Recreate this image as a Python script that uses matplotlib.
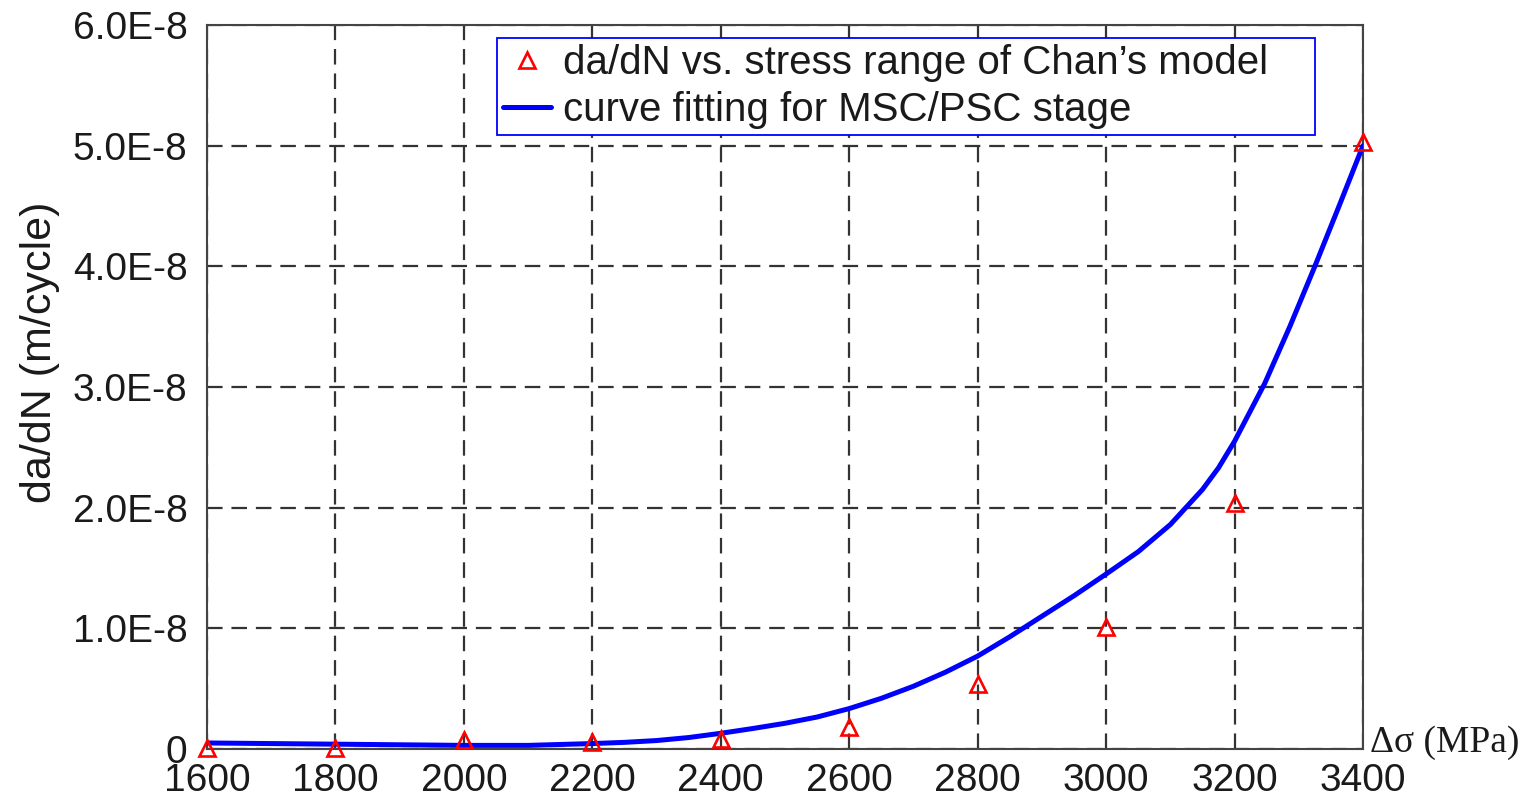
import numpy as np
import matplotlib
matplotlib.use("Agg")
import matplotlib.pyplot as plt
from matplotlib.ticker import FixedLocator, FixedFormatter

# Crack growth rate from Chan's model (in units of 1E-8 m/cycle)
stress_range = [1600, 1800, 2000, 2200, 2400, 2600, 2800, 3000, 3200, 3400]
dadn_model = [0.01, 0.01, 0.075, 0.06, 0.085, 0.18, 0.54, 1.01, 2.04, 5.03]

# Fitted MSC/PSC curve (in units of 1E-8 m/cycle)
fit_stress = [1600, 1700, 1800, 1900, 2000, 2100, 2200, 2250, 2300, 2350,
              2400, 2450, 2500, 2550, 2600, 2650, 2700, 2750, 2800, 2850,
              2900, 2950, 3000, 3050, 3100, 3150, 3175, 3200, 3247,
              3286, 3325, 3362, 3400]
fit_dadn = [0.05, 0.045, 0.04, 0.035, 0.03, 0.03, 0.045, 0.055, 0.07, 0.095,
            0.13, 0.17, 0.213, 0.265, 0.335, 0.42, 0.52, 0.637, 0.77, 0.93,
            1.10, 1.27, 1.45, 1.635, 1.86, 2.15, 2.33, 2.55, 3.03,
            3.50, 4.0, 4.49, 5.0]

scale = 1e-8
x_ticks = [1600, 1800, 2000, 2200, 2400, 2600, 2800, 3000, 3200, 3400]
y_ticks = [0, 1, 2, 3, 4, 5, 6]
y_tick_labels = ["0", "1.0E-8", "2.0E-8", "3.0E-8", "4.0E-8", "5.0E-8", "6.0E-8"]

plt.rcParams["font.family"] = ["Liberation Sans", "DejaVu Sans"]

W, H = 1535, 800
fig = plt.figure(figsize=(W / 100, H / 100), dpi=100)
ax = fig.add_axes([207 / W, 1 - 749 / H, 1156 / W, 724 / H])

ax.plot(np.array(fit_stress), np.array(fit_dadn) * scale, color="#0000ff",
        lw=3.6, solid_capstyle="round", solid_joinstyle="round", zorder=3,
        label="curve fitting for MSC/PSC stage")
ax.plot(np.array(stress_range), np.array(dadn_model) * scale, linestyle="none",
        marker="^", markersize=11, markerfacecolor="none",
        markeredgecolor="#ff0000", markeredgewidth=1.9, clip_on=False, zorder=4,
        label="da/dN vs. stress range of Chan\u2019s model")

ax.set_xlim(1600, 3400)
ax.set_ylim(0, 6 * scale)
ax.xaxis.set_major_locator(FixedLocator(x_ticks))
ax.xaxis.set_major_formatter(FixedFormatter([str(v) for v in x_ticks]))
ax.yaxis.set_major_locator(FixedLocator([v * scale for v in y_ticks]))
ax.yaxis.set_major_formatter(FixedFormatter(y_tick_labels))

ax.tick_params(axis="both", which="major", direction="in", length=7,
               width=1.2, color="#333333", labelsize=28, labelcolor="#1a1a1a",
               top=True, right=True)
ax.tick_params(axis="x", pad=10)
ax.tick_params(axis="y", pad=14)

for s in ax.spines.values():
    s.set_color("#444444")
    s.set_linewidth(1.5)

ax.set_axisbelow(True)
ax.grid(True, color="#333333", linestyle=(0, (7, 4)), linewidth=1.6)

handles, labels = ax.get_legend_handles_labels()
leg_x0 = (497 - 207) / 1156
leg_y1 = (749 - 38) / 724
leg_w = (1315 - 497) / 1156
leg = ax.legend(handles[::-1], labels[::-1], loc="upper left",
                bbox_to_anchor=(leg_x0, leg_y1, leg_w, 0), mode="expand",
                borderaxespad=0, fontsize=29, frameon=True, fancybox=False,
                edgecolor="#0000ff", framealpha=1, borderpad=0.15,
                handlelength=1.2, handletextpad=0.3, labelspacing=0.22)
leg.get_frame().set_linewidth(1.3)
for t in leg.get_texts():
    t.set_color("#1a1a1a")

fig.text(40 / W, 1 - 352 / H, "da/dN (m/cycle)", rotation=90, fontsize=31,
         ha="center", va="center", color="#1a1a1a")
fig.text(1370 / W, 1 - 752 / H, "\u0394\u03c3 (MPa)", fontsize=27,
         family=["Liberation Serif", "DejaVu Serif"], ha="left",
         va="baseline", color="#1a1a1a")

fig.savefig("out.png", dpi=100, facecolor="white")
